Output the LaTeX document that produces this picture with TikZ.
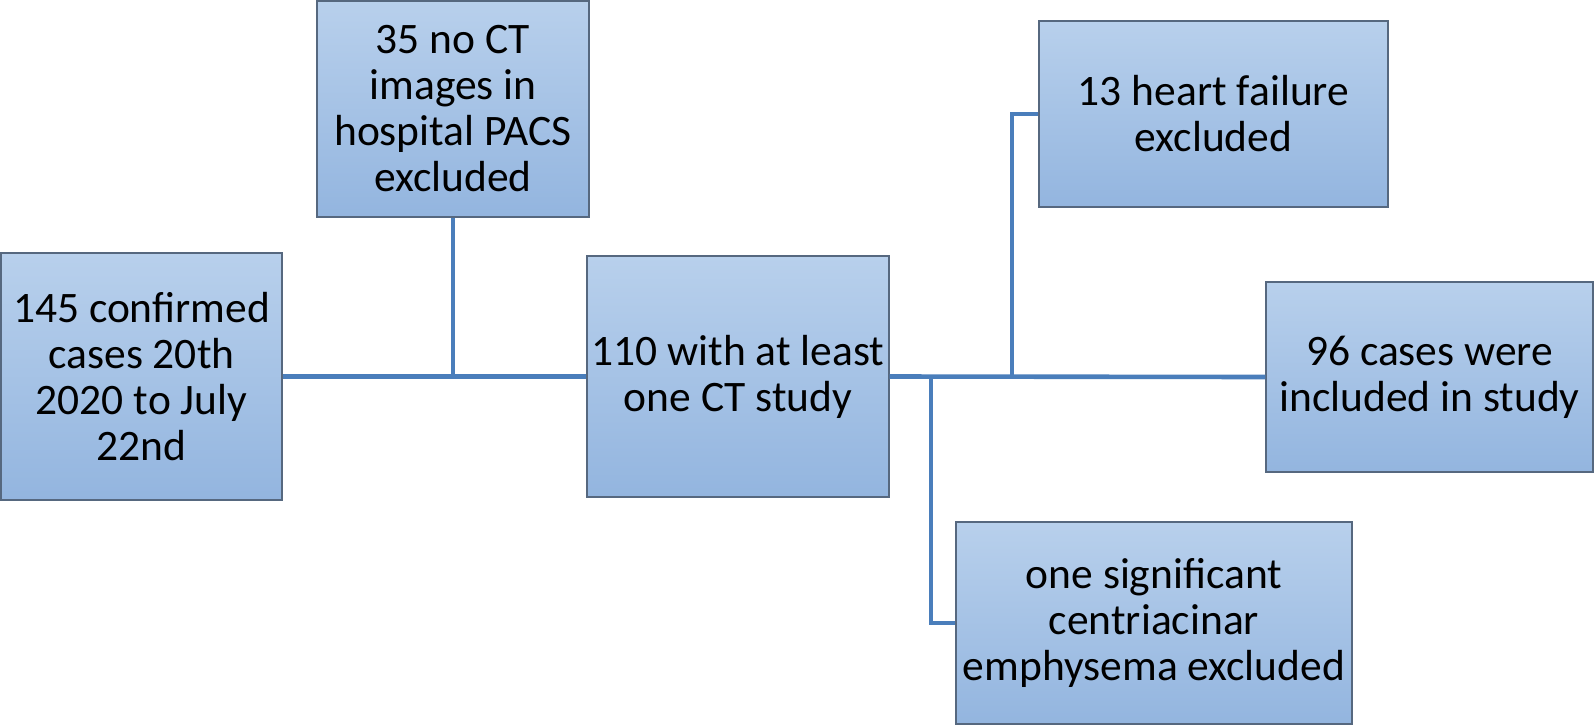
\documentclass[tikz,border=0pt]{standalone}
\usepackage{fontspec}
\setmainfont{Carlito}
\definecolor{boxtop}{HTML}{B8D0EC}
\definecolor{boxbot}{HTML}{93B5DF}
\definecolor{boxline}{HTML}{56687F}
\definecolor{conn}{HTML}{4A7EBB}
\tikzset{
  flowbox/.style={rectangle, draw=boxline, line width=1.4pt, top color=boxtop, bottom color=boxbot,
    align=center, inner sep=0pt, font=\fontsize{43.5}{46}\selectfont, text=black},
  connline/.style={draw=conn, line width=4.6pt}
}
\begin{document}
\begin{tikzpicture}[x=1pt,y=-1pt]
\useasboundingbox (0,0) rectangle (1594,726);
\node[flowbox, minimum width=281pt, minimum height=247pt] (b145) at (141.5,376.5) {145 confirmed\\cases 20th\\2020 to July\\22nd};
\node[flowbox, minimum width=272pt, minimum height=216pt] (b35) at (453,109) {35 no CT\\images in\\hospital PACS\\excluded};
\node[flowbox, minimum width=302pt, minimum height=241pt] (b110) at (738,376.5) {110 with at least\\one CT study};
\node[flowbox, minimum width=349pt, minimum height=186pt] (b13) at (1213.5,114) {13 heart failure\\excluded};
\node[flowbox, minimum width=327pt, minimum height=190pt] (b96) at (1429.5,377) {96 cases were\\included in study};
\node[flowbox, minimum width=396pt, minimum height=202pt] (bemph) at (1154,623) {one significant\\centriacinar\\emphysema excluded};
\coordinate (j35) at (453,377);
\coordinate (j13) at (1012,377);
\coordinate (jem) at (931,377);
\draw[connline] (b145.east) -- (b110.west);
\draw[connline] (b35.south) -- (j35);
\draw[connline] (b110.east) -- (b96.west);
\draw[connline] (j13) |- (b13.west);
\draw[connline] (jem) |- (bemph.west);
\end{tikzpicture}
\end{document}
